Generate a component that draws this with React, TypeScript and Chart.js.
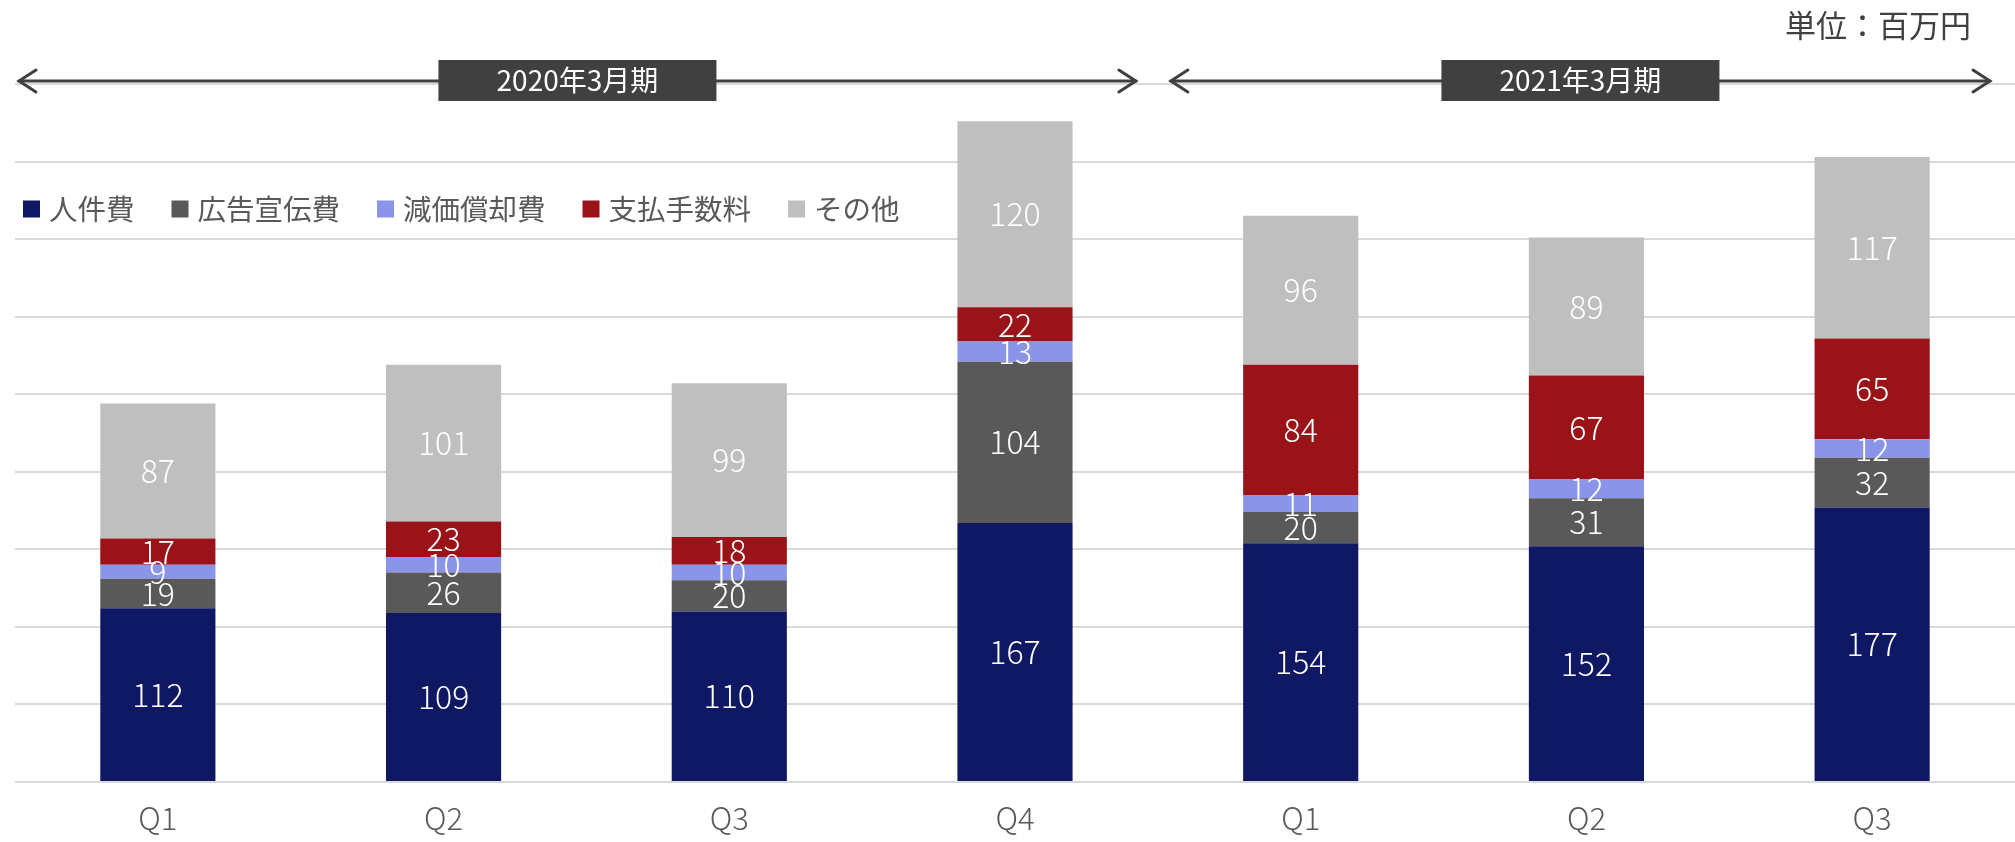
import React, { useEffect, useRef } from "react";
import { Chart, registerables } from "chart.js";

Chart.register(...registerables);

// ---- data ----
const categories = ["Q1", "Q2", "Q3", "Q4", "Q1", "Q2", "Q3"];
const personnel = [112, 109, 110, 167, 154, 152, 177];
const advertising = [19, 26, 20, 104, 20, 31, 32];
const depreciation = [9, 10, 10, 13, 11, 12, 12];
const commissions = [17, 23, 18, 22, 84, 67, 65];
const others = [87, 101, 99, 120, 96, 89, 117];
const seriesNames = ["人件費", "広告宣伝費", "減価償却費", "支払手数料", "その他"];
const periodLabels = ["2020年3月期", "2021年3月期"];
const periodStarts = [0, 4];
const periodEnds = [3, 6];
const unitLabel = "単位：百万円";
const yMax = 450;
const yStep = 50;

// ---- styles ----
const seriesColors = ["#0F1862", "#595959", "#8A94E8", "#9A1318", "#BFBFBF"];
const FONT = '"Noto Sans CJK JP", "Noto Sans", sans-serif';
const arrowInsets = [
  [4, 22],
  [13, 25],
];

const overlayPlugin = {
  id: "overlay",
  afterDatasetsDraw(chart: any) {
    const ctx = chart.ctx;
    ctx.save();
    ctx.font = `300 32px ${FONT}`;
    ctx.fillStyle = "#FFFFFF";
    ctx.textAlign = "center";
    ctx.textBaseline = "middle";
    chart.data.datasets.forEach((ds: any, di: number) => {
      const meta = chart.getDatasetMeta(di);
      meta.data.forEach((el: any, i: number) => {
        const v = ds.data[i];
        const y = (el.y + el.base) / 2;
        ctx.fillText(String(v), el.x, y);
      });
    });
    ctx.restore();
  },
  afterDraw(chart: any) {
    const ctx = chart.ctx;
    const area = chart.chartArea;
    const xs = chart.scales.x;
    const half = (xs.getPixelForValue(1) - xs.getPixelForValue(0)) / 2;
    ctx.save();

    // unit label
    ctx.font = `31px ${FONT}`;
    ctx.fillStyle = "#404040";
    ctx.textAlign = "right";
    ctx.textBaseline = "middle";
    ctx.fillText(unitLabel, 1971, 25);

    // period arrows and boxes
    const ay = 81;
    periodLabels.forEach((label, p) => {
      const x0 = xs.getPixelForValue(periodStarts[p]) - half + arrowInsets[p][0];
      const x1 = xs.getPixelForValue(periodEnds[p]) + half - arrowInsets[p][1];
      ctx.strokeStyle = "#404040";
      ctx.lineWidth = 3;
      ctx.lineCap = "round";
      ctx.beginPath();
      ctx.moveTo(x0, ay);
      ctx.lineTo(x1, ay);
      ctx.stroke();
      ctx.beginPath();
      ctx.moveTo(x0 + 17, ay - 11);
      ctx.lineTo(x0, ay);
      ctx.lineTo(x0 + 17, ay + 11);
      ctx.moveTo(x1 - 17, ay - 11);
      ctx.lineTo(x1, ay);
      ctx.lineTo(x1 - 17, ay + 11);
      ctx.stroke();
      const cx = (x0 + x1) / 2;
      const bw = 278;
      const bh = 41;
      ctx.fillStyle = "#404040";
      ctx.fillRect(cx - bw / 2, 60, bw, bh);
      ctx.fillStyle = "#FFFFFF";
      ctx.font = `28px ${FONT}`;
      ctx.textAlign = "center";
      ctx.textBaseline = "middle";
      ctx.fillText(label, cx, 80.5);
    });

    // legend
    ctx.font = `28.5px ${FONT}`;
    ctx.textAlign = "left";
    ctx.textBaseline = "middle";
    let lx = area.left + 8;
    const ly = 209;
    seriesNames.forEach((name, i) => {
      ctx.fillStyle = seriesColors[i];
      ctx.fillRect(lx, ly - 8.5, 17, 17);
      ctx.fillStyle = "#595959";
      ctx.fillText(name, lx + 26, ly);
      lx += 26 + ctx.measureText(name).width + 37;
    });
    ctx.restore();
  },
};

export default function App() {
  const ref = useRef<HTMLCanvasElement | null>(null);
  useEffect(() => {
    if (!ref.current) return;
    const data = [personnel, advertising, depreciation, commissions, others];
    const chart = new Chart(ref.current, {
      type: "bar",
      data: {
        labels: categories,
        datasets: seriesNames.map((name, i) => ({
          label: name,
          data: data[i],
          backgroundColor: seriesColors[i],
          borderWidth: 0,
          barPercentage: 0.403,
          categoryPercentage: 1,
        })),
      },
      options: {
        animation: false,
        responsive: false,
        devicePixelRatio: 1,
        layout: { padding: { left: 15, right: 0, top: 84, bottom: 0 } },
        plugins: {
          legend: { display: false },
          tooltip: { enabled: false },
          title: { display: false },
        },
        scales: {
          x: {
            stacked: true,
            grid: { display: false, drawTicks: false },
            border: { display: false },
            ticks: {
              color: "#595959",
              font: { family: FONT, size: 31, weight: "300" as any },
              padding: 18,
            },
            afterFit(scale: any) {
              scale.height = 60;
            },
          },
          y: {
            stacked: true,
            min: 0,
            max: yMax,
            ticks: { display: false, stepSize: yStep },
            grid: { color: "#D9D9D9", lineWidth: 2, drawTicks: false },
            border: { display: false },
          },
        },
      },
      plugins: [overlayPlugin],
    });
    return () => chart.destroy();
  }, []);
  return (
    <div style={{ position: "absolute", left: 0, top: 0, width: 2015, height: 842, background: "#fff" }}>
      <canvas ref={ref} width={2015} height={842} style={{ display: "block" }} />
    </div>
  );
}
